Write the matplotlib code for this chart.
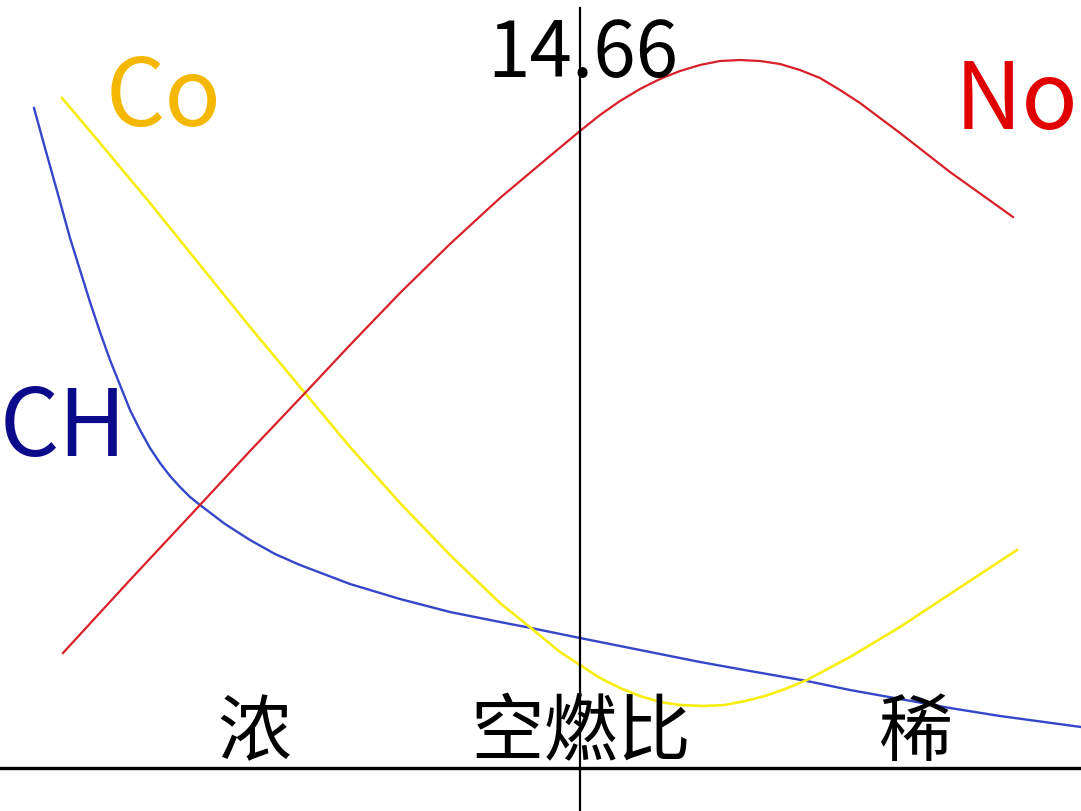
import matplotlib
matplotlib.use("Agg")
import matplotlib.pyplot as plt

plt.rcParams['font.family'] = ['Noto Sans CJK SC', 'DejaVu Sans']

# curves (x across, y down, in picture units)
ch_x = [34, 45, 59, 70, 80, 90, 100, 110, 120, 130, 140, 150, 160, 170, 180, 190, 200, 225, 250, 275, 300,
        350, 400, 450, 500, 531, 580, 650, 700, 750, 807, 850, 900, 950, 1000, 1081]
ch_y = [108, 148, 198, 238, 270, 302, 332, 360, 385, 410, 430, 448, 463, 476, 487, 497, 505, 524, 540, 554, 565,
        584, 599, 612, 622, 628, 638, 652, 662, 671, 681, 690, 699, 708, 716, 727]

co_x = [62, 100, 150, 200, 250, 305, 350, 400, 450, 500, 531, 560, 580, 600, 620, 640, 660, 680, 703, 725,
        745, 765, 785, 807, 850, 900, 950, 1017]
co_y = [98, 143, 203, 265, 327, 393, 447, 503, 555, 603, 628, 652, 665, 678, 688, 696, 702, 705, 706, 705,
        701, 696, 689, 680, 657, 627, 594, 550]

no_x = [63, 130, 200, 250, 305, 350, 400, 450, 500, 550, 580, 600, 620, 640, 660, 680, 700, 720, 740, 760,
        780, 800, 820, 840, 860, 880, 900, 950, 1013]
no_y = [653, 580, 505, 451, 393, 345, 293, 244, 198, 156, 131, 115, 101, 89, 79, 71, 65, 61, 60, 61,
        64, 70, 78, 90, 103, 118, 133, 172, 217]

stoich_x = 580
axis_y = 768

fig = plt.figure(figsize=(10.81, 8.11), dpi=100)
ax = fig.add_axes([0, 0, 1, 1])
ax.set_xlim(0, 1081)
ax.set_ylim(811, 0)
ax.axis('off')

ax.plot(ch_x, ch_y, color='#3646c8', lw=1.7)
ax.plot(co_x, co_y, color='#f7ee10', lw=1.9)
ax.plot(no_x, no_y, color='#d8202a', lw=1.6)

ax.plot([0, 1081], [axis_y, axis_y], color='black', lw=2.4)
ax.plot([stoich_x, stoich_x], [8, 811], color='black', lw=1.6)

ax.text(106, 126, 'Co', color='#f5b800', fontsize=67, va='baseline', ha='left')
ax.text(955, 129, 'No', color='#e00000', fontsize=67, va='baseline', ha='left')
ax.text(0, 456, 'CH', color='#0a0a8a', fontsize=67, va='baseline', ha='left')
ax.text(583, 77, '14.66', color='black', fontsize=55, va='baseline', ha='center')

ax.text(254, 755, '浓', fontsize=53, va='baseline', ha='center')
ax.text(581, 755, '空燃比', fontsize=53, va='baseline', ha='center')
ax.text(916, 755, '稀', fontsize=53, va='baseline', ha='center')

fig.savefig('out.png', dpi=100)
